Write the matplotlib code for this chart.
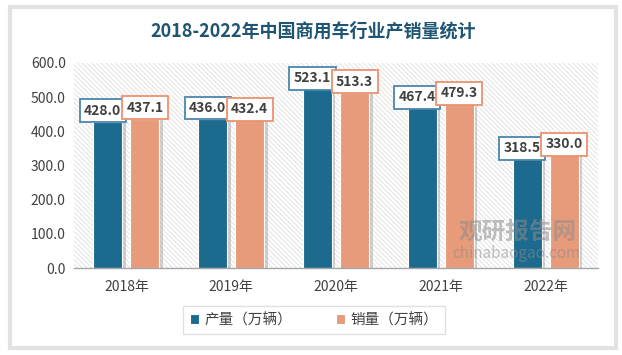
import matplotlib
matplotlib.use("Agg")
import matplotlib.pyplot as plt
import matplotlib.patheffects as pe
from matplotlib.patches import Rectangle
import numpy as np

plt.rcParams["font.family"] = ["Noto Sans CJK SC", "DejaVu Sans"]
plt.rcParams["hatch.linewidth"] = 0.6

# data
years = ["2018年", "2019年", "2020年", "2021年", "2022年"]
production = [428.0, 436.0, 523.1, 467.4, 318.5]
sales = [437.1, 432.4, 513.3, 479.3, 330.0]
series_names = ["产量（万辆）", "销量（万辆）"]

DARK = "#1c6a8e"
ORANGE = "#e89b7a"
DARK_EDGE = "#4a87ab"
ORANGE_EDGE = "#eb9270"
TITLE_C = "#1f5573"
TEXT_C = "#404040"

fig = plt.figure(figsize=(6.22, 3.55), dpi=100)
fig.patch.set_facecolor("white")

# outer frame
fig.patches.append(Rectangle((10 / 622, 7 / 355), 606 / 622, 341 / 355,
                             transform=fig.transFigure, facecolor="white",
                             edgecolor="#e2e2e2", lw=3, zorder=-5))

ax = fig.add_axes([74 / 622, 1 - 268 / 355, 524 / 622, 205 / 355])
ax.set_facecolor("none")
ax.set_zorder(2)

# hatched plot background
ax.add_patch(Rectangle((0, 0), 1, 1, transform=ax.transAxes, facecolor="white",
                       edgecolor="#dedede", hatch="\\\\\\\\\\\\\\", lw=0, zorder=0))

x = np.arange(len(years))
off = 0.177
w = 0.277
shadow = [pe.SimplePatchShadow(offset=(2.5, -1), shadow_rgbFace="#9a9a9a", alpha=0.45),
          pe.Normal()]
b1 = ax.bar(x - off, production, w, color=DARK, edgecolor="white", lw=0.8,
            zorder=3, label=series_names[0])
b2 = ax.bar(x + off, sales, w, color=ORANGE, edgecolor="white", lw=0.8,
            zorder=3, label=series_names[1])
for b in list(b1) + list(b2):
    b.set_path_effects(shadow)

# value labels
for xi, v in zip(x, production):
    ax.annotate(f"{v:.1f}", xy=(xi - off, v), xytext=(-5, 4), textcoords="offset pixels",
                ha="center", va="bottom", fontsize=10, fontweight="bold", color=TEXT_C,
                bbox=dict(boxstyle="square,pad=0.32", fc="white", ec=DARK_EDGE, lw=1.3),
                zorder=6)
for xi, v in zip(x, sales):
    ax.annotate(f"{v:.1f}", xy=(xi + off, v), xytext=(0, 4), textcoords="offset pixels",
                ha="center", va="bottom", fontsize=10, fontweight="bold", color=TEXT_C,
                bbox=dict(boxstyle="square,pad=0.32", fc="white", ec=ORANGE_EDGE, lw=1.3),
                zorder=6)

ax.set_xlim(-0.5, len(years) - 0.5)
ax.set_ylim(0, 600)
ax.set_yticks(np.arange(0, 601, 100))
ax.set_yticklabels([f"{t:.1f}" for t in np.arange(0, 601, 100)])
ax.set_xticks(x)
ax.set_xticklabels(years)
ax.tick_params(axis="y", length=0, pad=6, labelsize=10, labelcolor=TEXT_C)
ax.tick_params(axis="x", length=0, pad=9, labelsize=10, labelcolor=TEXT_C)
for s in ["left", "top", "right"]:
    ax.spines[s].set_visible(False)
ax.spines["bottom"].set_color("#a6a6a6")
ax.spines["bottom"].set_linewidth(1.0)
ax.spines["bottom"].set_zorder(4)

# watermark
fig.text(518 / 622, 1 - 232 / 355, "观研报告网", fontsize=17, fontweight="bold",
         color="#8c8c8c", alpha=0.55, ha="center", va="center", zorder=5)
fig.text(516 / 622, 1 - 254 / 355, "chinabaogao.com", fontsize=11,
         color="#8c8c8c", alpha=0.55, ha="center", va="center", zorder=5)

fig.text(313 / 622, 1 - 31 / 355, "2018-2022年中国商用车行业产销量统计", fontsize=13,
         fontweight="bold", color=TITLE_C, ha="center", va="center")

leg = fig.legend(handles=[b1, b2], labels=series_names, loc="center",
                 bbox_to_anchor=(314 / 622, 1 - 320 / 355), ncol=2, fontsize=10.5,
                 frameon=True, fancybox=False, edgecolor="#d9d9d9",
                 handlelength=0.6, handleheight=0.6, columnspacing=3.0,
                 handletextpad=0.4, borderpad=0.45)
leg.get_frame().set_linewidth(1.0)
for h in leg.legend_handles:
    h.set_path_effects([])
for t in leg.get_texts():
    t.set_color(TEXT_C)

fig.savefig("out.png", dpi=100, facecolor="white")
